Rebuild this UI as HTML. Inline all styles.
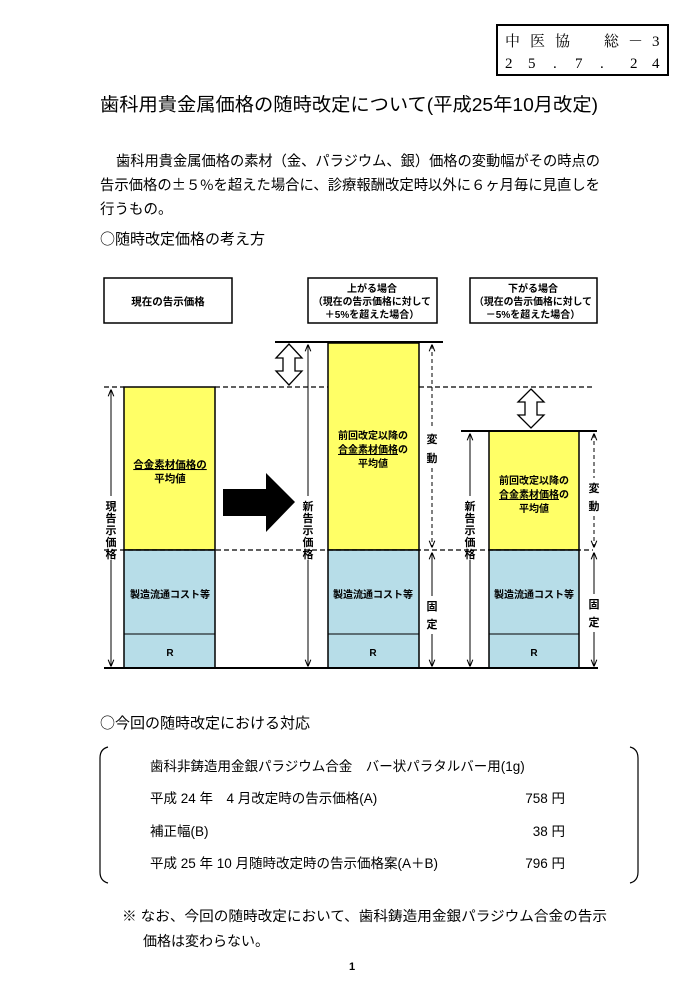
<!DOCTYPE html>
<html><head><meta charset="utf-8"><style>
html,body{margin:0;padding:0;background:#fff;}
svg{display:block;}
text{font-family:"Liberation Sans","Noto Sans CJK JP",sans-serif;fill:#000;}
.m{font-family:"Liberation Serif","Noto Serif CJK JP",serif;}
.b{font-weight:bold;font-size:10.5px;}
.s{font-weight:bold;font-size:10px;}
.v{font-weight:bold;font-size:11px;text-anchor:middle;}
.c{font-family:"Noto Sans CJK JP",sans-serif;}
</style></head><body>
<svg width="700" height="1000" viewBox="0 0 700 1000" xmlns="http://www.w3.org/2000/svg">
<defs>
<marker id="ah" viewBox="0 0 10 10" refX="9" refY="5" markerWidth="7" markerHeight="7" orient="auto-start-reverse"><path d="M0,1 L10,5 L0,9" fill="none" stroke="#000" stroke-width="1.5"/></marker>
</defs>
<!-- header box -->
<rect x="497" y="25" width="171" height="50" fill="none" stroke="#000" stroke-width="2"/>
<text class="m" x="505" y="46" font-size="15">中</text>
<text class="m" x="530" y="46" font-size="15">医</text>
<text class="m" x="555" y="46" font-size="15">協</text>
<text class="m" x="604" y="46" font-size="15">総</text>
<text class="m" x="628" y="46" font-size="15">－</text>
<text class="m" x="652" y="46" font-size="15">3</text>
<text class="m" x="505" y="68" font-size="15">2</text>
<text class="m" x="528" y="68" font-size="15">5</text>
<text class="m" x="553" y="68" font-size="15">.</text>
<text class="m" x="575" y="68" font-size="15">7</text>
<text class="m" x="600" y="68" font-size="15">.</text>
<text class="m" x="630" y="68" font-size="15">2</text>
<text class="m" x="652" y="68" font-size="15">4</text>
<!-- title -->
<text x="100" y="111" font-size="18.5" textLength="498" lengthAdjust="spacingAndGlyphs">歯科用貴金属価格の随時改定について(平成25年10月改定)</text>
<text x="116" y="166" font-size="14.5" textLength="484" lengthAdjust="spacingAndGlyphs">歯科用貴金属価格の素材（金、パラジウム、銀）価格の変動幅がその時点の</text>
<text x="100" y="190" font-size="14.5" textLength="500" lengthAdjust="spacingAndGlyphs" class="c">告示価格の±５%を超えた場合に、診療報酬改定時以外に６ヶ月毎に見直しを</text>
<text x="100" y="214" font-size="14.5">行うもの。</text>
<text x="100" y="244" font-size="15" class="c">○随時改定価格の考え方</text>
<!-- top boxes -->
<rect x="104" y="278" width="128" height="45" fill="#fff" stroke="#000" stroke-width="1.5"/>
<text class="b" x="168" y="305" text-anchor="middle">現在の告示価格</text>
<rect x="308" y="278" width="129" height="45" fill="#fff" stroke="#000" stroke-width="1.5"/>
<text class="s" x="372" y="292" text-anchor="middle">上がる場合</text>
<text class="s" x="372" y="305" text-anchor="middle" textLength="118" lengthAdjust="spacingAndGlyphs">（現在の告示価格に対して</text>
<text class="s" x="372" y="318" text-anchor="middle">＋5%を超えた場合）</text>
<rect x="470" y="278" width="127" height="45" fill="#fff" stroke="#000" stroke-width="1.5"/>
<text class="s" x="533" y="292" text-anchor="middle">下がる場合</text>
<text class="s" x="533" y="305" text-anchor="middle" textLength="118" lengthAdjust="spacingAndGlyphs">（現在の告示価格に対して</text>
<text class="s" x="533" y="318" text-anchor="middle">－5%を超えた場合）</text>
<!-- bars -->
<rect x="124" y="387" width="91" height="163" fill="#ffff66" stroke="#000" stroke-width="1.5"/>
<rect x="124" y="550" width="91" height="118" fill="#b7dde8" stroke="#000" stroke-width="1.5"/>
<line x1="124" y1="634" x2="215" y2="634" stroke="#000"/>
<rect x="328" y="343" width="91" height="207" fill="#ffff66" stroke="#000" stroke-width="1.5"/>
<rect x="328" y="550" width="91" height="118" fill="#b7dde8" stroke="#000" stroke-width="1.5"/>
<line x1="328" y1="634" x2="419" y2="634" stroke="#000"/>
<rect x="489" y="431" width="90" height="119" fill="#ffff66" stroke="#000" stroke-width="1.5"/>
<rect x="489" y="550" width="90" height="118" fill="#b7dde8" stroke="#000" stroke-width="1.5"/>
<line x1="489" y1="634" x2="579" y2="634" stroke="#000"/>
<!-- bar texts -->
<text class="b" x="170" y="468" text-anchor="middle" text-decoration="underline">合金素材価格の</text>
<text class="b" x="170" y="482" text-anchor="middle">平均値</text>
<text class="s" x="170" y="598" text-anchor="middle">製造流通コスト等</text>
<text class="s" x="170" y="656" text-anchor="middle">R</text>
<text class="s" x="373" y="439" text-anchor="middle">前回改定以降の</text>
<text class="s" x="373" y="453" text-anchor="middle"><tspan text-decoration="underline">合金素材価格</tspan>の</text>
<text class="s" x="373" y="467" text-anchor="middle">平均値</text>
<text class="s" x="373" y="598" text-anchor="middle">製造流通コスト等</text>
<text class="s" x="373" y="656" text-anchor="middle">R</text>
<text class="s" x="534" y="484" text-anchor="middle">前回改定以降の</text>
<text class="s" x="534" y="498" text-anchor="middle"><tspan text-decoration="underline">合金素材価格</tspan>の</text>
<text class="s" x="534" y="512" text-anchor="middle">平均値</text>
<text class="s" x="534" y="598" text-anchor="middle">製造流通コスト等</text>
<text class="s" x="534" y="656" text-anchor="middle">R</text>
<!-- dashed lines -->
<line x1="104" y1="387" x2="124" y2="387" stroke="#000" stroke-width="1.3" stroke-dasharray="5,3"/>
<line x1="215" y1="387" x2="328" y2="387" stroke="#000" stroke-width="1.3" stroke-dasharray="5,3"/>
<line x1="419" y1="387" x2="593" y2="387" stroke="#000" stroke-width="1.3" stroke-dasharray="5,3"/>
<line x1="104" y1="550" x2="593" y2="550" stroke="#000" stroke-width="1.3" stroke-dasharray="5,3"/>
<!-- solid lines -->
<line x1="275" y1="342" x2="443" y2="342" stroke="#000" stroke-width="2"/>
<line x1="461" y1="431" x2="597" y2="431" stroke="#000" stroke-width="2"/>
<line x1="104" y1="668" x2="598" y2="668" stroke="#000" stroke-width="2"/>
<!-- vertical arrows with upright labels -->
<line x1="111" y1="390" x2="111" y2="496" stroke="#000" marker-start="url(#ah)"/>
<line x1="111" y1="560" x2="111" y2="666" stroke="#000" marker-end="url(#ah)"/>
<text class="v" x="111" y="510">現</text><text class="v" x="111" y="522">告</text><text class="v" x="111" y="534">示</text><text class="v" x="111" y="546">価</text><text class="v" x="111" y="558">格</text>
<line x1="308" y1="345" x2="308" y2="496" stroke="#000" marker-start="url(#ah)"/>
<line x1="308" y1="560" x2="308" y2="666" stroke="#000" marker-end="url(#ah)"/>
<text class="v" x="308" y="510">新</text><text class="v" x="308" y="522">告</text><text class="v" x="308" y="534">示</text><text class="v" x="308" y="546">価</text><text class="v" x="308" y="558">格</text>
<line x1="470" y1="434" x2="470" y2="496" stroke="#000" marker-start="url(#ah)"/>
<line x1="470" y1="560" x2="470" y2="666" stroke="#000" marker-end="url(#ah)"/>
<text class="v" x="470" y="510">新</text><text class="v" x="470" y="522">告</text><text class="v" x="470" y="534">示</text><text class="v" x="470" y="546">価</text><text class="v" x="470" y="558">格</text>
<!-- right side variation -->
<line x1="432" y1="345" x2="432" y2="428" stroke="#000" stroke-dasharray="4,3" marker-start="url(#ah)"/>
<text class="v" x="432" y="443">変</text><text class="v" x="432" y="462">動</text>
<line x1="432" y1="468" x2="432" y2="547" stroke="#000" stroke-dasharray="4,3" marker-end="url(#ah)"/>
<line x1="432" y1="553" x2="432" y2="596" stroke="#000" marker-start="url(#ah)"/>
<text class="v" x="432" y="610">固</text><text class="v" x="432" y="628">定</text>
<line x1="432" y1="634" x2="432" y2="666" stroke="#000" marker-end="url(#ah)"/>
<line x1="594" y1="434" x2="594" y2="478" stroke="#000" stroke-dasharray="4,3" marker-start="url(#ah)"/>
<text class="v" x="594" y="492">変</text><text class="v" x="594" y="510">動</text>
<line x1="594" y1="516" x2="594" y2="547" stroke="#000" stroke-dasharray="4,3" marker-end="url(#ah)"/>
<line x1="594" y1="553" x2="594" y2="594" stroke="#000" marker-start="url(#ah)"/>
<text class="v" x="594" y="608">固</text><text class="v" x="594" y="626">定</text>
<line x1="594" y1="632" x2="594" y2="666" stroke="#000" marker-end="url(#ah)"/>
<!-- hollow double arrows -->
<path d="M289,344 L302,358 L295,358 L295,371 L302,371 L289,385 L276,371 L283,371 L283,358 L276,358 Z" fill="#fff" stroke="#000" stroke-width="1.3"/>
<path d="M531,389 L544,402 L537,402 L537,415 L544,415 L531,428 L518,415 L525,415 L525,402 L518,402 Z" fill="#fff" stroke="#000" stroke-width="1.3"/>
<!-- big arrow -->
<path d="M223,489 L266,489 L266,473 L295,502 L266,532 L266,516 L223,516 Z" fill="#000"/>
<!-- section 2 -->
<text x="100" y="728" font-size="15" class="c">○今回の随時改定における対応</text>
<path d="M108,747 Q100,749 100,758 L100,872 Q100,881 108,883" fill="none" stroke="#000" stroke-width="1.2"/>
<path d="M630,747 Q638,749 638,758 L638,872 Q638,881 630,883" fill="none" stroke="#000" stroke-width="1.2"/>
<text x="150" y="771" font-size="13.5">歯科非鋳造用金銀パラジウム合金　バー状パラタルバー用(1g)</text>
<text x="150" y="803" font-size="13.5">平成 24 年　4 月改定時の告示価格(A)</text>
<text x="565" y="803" font-size="13.5" text-anchor="end">758 円</text>
<text x="150" y="836" font-size="13.5">補正幅(B)</text>
<text x="565" y="836" font-size="13.5" text-anchor="end">38 円</text>
<text x="150" y="868" font-size="13.5">平成 25 年 10 月随時改定時の告示価格案(A＋B)</text>
<text x="565" y="868" font-size="13.5" text-anchor="end">796 円</text>
<text x="122" y="921" font-size="14" textLength="485" lengthAdjust="spacingAndGlyphs">※ なお、今回の随時改定において、歯科鋳造用金銀パラジウム合金の告示</text>
<text x="143" y="946" font-size="14">価格は変わらない。</text>
<text x="349" y="970" font-size="11" font-weight="bold">1</text>
</svg>
</body></html>
